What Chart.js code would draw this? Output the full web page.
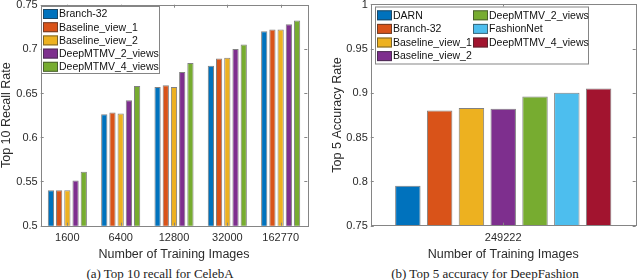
<!DOCTYPE html>
<html>
<head>
<meta charset="utf-8">
<script src="https://cdn.jsdelivr.net/npm/chart.js@4.4.1/dist/chart.umd.min.js"></script>
<style>
  html, body { margin: 0; padding: 0; background: #fff; }
  #wrap { position: relative; width: 640px; height: 280px; overflow: hidden; }
  canvas { position: absolute; top: 0; }
  #celebaCanvas { left: 0; }
  #fashionCanvas { left: 320px; }
  .caption {
    position: absolute; top: 265px; width: 320px; text-align: center;
    font: 13px "Liberation Serif", "Times New Roman", serif; line-height: 17px; color: #222;
  }
</style>
</head>
<body>
<div id="wrap">
  <canvas id="celebaCanvas" width="320" height="261"></canvas>
  <canvas id="fashionCanvas" width="320" height="261"></canvas>
  <div class="caption" style="left:0">(a) Top 10 recall for CelebA</div>
  <div class="caption" style="left:325px">(b) Top 5 accuracy for DeepFashion</div>
</div>
<script>
// CelebA, top 10 recall
const celebaSizes = ["1600", "6400", "12800", "32000", "162770"];
const celebaModels = ["Branch-32", "Baseline_view_1", "Baseline_view_2", "DeepMTMV_2_views", "DeepMTMV_4_views"];
const branch32Recall = [0.540, 0.626, 0.657, 0.681, 0.720];
const baseline1Recall = [0.540, 0.628, 0.659, 0.689, 0.722];
const baseline2Recall = [0.540, 0.627, 0.657, 0.690, 0.722];
const mtmv2Recall = [0.551, 0.642, 0.674, 0.700, 0.728];
const mtmv4Recall = [0.561, 0.658, 0.684, 0.705, 0.732];
const celebaTicks = [0.5, 0.55, 0.6, 0.65, 0.7, 0.75];

// DeepFashion, top 5 accuracy
const fashionSizes = ["249222"];
const fashionModels = ["DARN", "Branch-32", "Baseline_view_1", "Baseline_view_2", "DeepMTMV_2_views", "FashionNet", "DeepMTMV_4_views"];
const fashionTop5 = [0.795, 0.880, 0.883, 0.882, 0.896, 0.900, 0.905];
const fashionTicks = [0.75, 0.8, 0.85, 0.9, 0.95, 1];

const matlabColors = ["#0072BD", "#D95319", "#EDB120", "#7E2F8E", "#77AC30", "#4DBEEE", "#A2142F"];
const axisColor = "#858585";
const textColor = "#2b2b2b";
const edgeColor = "rgba(45,45,45,0.6)";
const sans = "'Liberation Sans', Arial, sans-serif";

// frame round the axes with inward ticks, like a MATLAB box; y labels and legend too
const framePlugin = {
  id: "frame",
  afterDatasetsDraw(chart) {
    const { ctx, chartArea: a, scales } = chart;
    const yTicks = chart.options.plugins.frame.yTicks;
    const len = 3;
    ctx.save();
    ctx.strokeStyle = axisColor;
    ctx.lineWidth = 1;
    ctx.beginPath();
    yTicks.forEach(v => {
      const y = Math.round(scales.y.getPixelForValue(v)) + 0.5;
      ctx.moveTo(a.left, y); ctx.lineTo(a.left + len, y);
      ctx.moveTo(a.right, y); ctx.lineTo(a.right - len, y);
    });
    scales.x.ticks.forEach((t, i) => {
      const x = Math.round(scales.x.getPixelForTick(i)) + 0.5;
      ctx.moveTo(x, a.top); ctx.lineTo(x, a.top + len);
      ctx.moveTo(x, a.bottom); ctx.lineTo(x, a.bottom - len);
    });
    ctx.stroke();
    ctx.strokeRect(Math.round(a.left) + 0.5, Math.round(a.top) + 0.5,
      Math.round(a.right - a.left), Math.round(a.bottom - a.top));

    ctx.fillStyle = textColor;
    ctx.font = "11px " + sans;
    ctx.textAlign = "right";
    ctx.textBaseline = "middle";
    yTicks.forEach(v => {
      ctx.fillText(String(v), a.left - 3, scales.y.getPixelForValue(v) + 0.5);
    });
    ctx.restore();
  },
  afterDraw(chart) {
    const lg = chart.options.plugins.frame.legend;
    const { ctx } = chart;
    ctx.save();
    ctx.fillStyle = "#fff";
    ctx.fillRect(lg.x, lg.y, lg.w, lg.h);
    ctx.strokeStyle = axisColor;
    ctx.strokeRect(lg.x + 0.5, lg.y + 0.5, lg.w, lg.h);
    ctx.font = "10.5px " + sans;
    ctx.textBaseline = "middle";
    chart.data.datasets.forEach((ds, i) => {
      const col = Math.floor(i / lg.rows);
      const row = i % lg.rows;
      const sx = lg.cols[col];
      const cy = lg.row0 + row * lg.step;
      ctx.fillStyle = ds.backgroundColor;
      ctx.fillRect(sx, cy - 5, 15, 10);
      ctx.strokeStyle = edgeColor;
      ctx.strokeRect(sx + 0.5, cy - 4.5, 14, 9);
      ctx.fillStyle = "#111";
      ctx.fillText(ds.label, sx + 16, cy + 0.5);
    });
    ctx.restore();
  }
};

function makeBarChart(id, cfg) {
  const ctx = document.getElementById(id).getContext("2d");
  return new Chart(ctx, {
    type: "bar",
    data: { labels: cfg.labels, datasets: cfg.datasets },
    options: {
      responsive: false,
      animation: false,
      devicePixelRatio: 1,
      layout: { padding: cfg.padding },
      datasets: { bar: { categoryPercentage: cfg.catPct, barPercentage: cfg.barPct } },
      plugins: {
        legend: { display: false },
        tooltip: { enabled: false },
        frame: { legend: cfg.legend, yTicks: cfg.ticks }
      },
      scales: {
        x: {
          grid: { display: false, drawTicks: false },
          border: { display: false },
          ticks: { color: textColor, font: { family: sans, size: 11 }, padding: 6, maxRotation: 0 },
          title: { display: true, text: "Number of Training Images", color: textColor,
                   font: { family: sans, size: 12.5, lineHeight: 1 }, padding: 0 },
          afterFit(s) { s.height = cfg.xHeight; }
        },
        y: {
          min: cfg.ticks[0],
          max: cfg.ticks[cfg.ticks.length - 1],
          grid: { display: false, drawTicks: false },
          border: { display: false },
          ticks: { display: false, stepSize: 0.05 },
          title: { display: true, text: cfg.yTitle, color: textColor,
                   font: { family: sans, size: 12.5, lineHeight: 1 }, padding: 0 },
          afterFit(s) { s.width = cfg.yWidth; }
        }
      }
    },
    plugins: [framePlugin]
  });
}

const celebaValues = [branch32Recall, baseline1Recall, baseline2Recall, mtmv2Recall, mtmv4Recall];

makeBarChart("celebaCanvas", {
  labels: celebaSizes,
  datasets: celebaModels.map((name, i) => ({
    label: name, data: celebaValues[i],
    backgroundColor: matlabColors[i], borderColor: edgeColor, borderWidth: 1
  })),
  ticks: celebaTicks,
  yTitle: "Top 10 Recall Rate",
  padding: { left: 0, right: 12.7, top: 4.7, bottom: 0 },
  yWidth: 40.7,
  xHeight: 35.3,
  catPct: 0.77,
  barPct: 0.76,
  legend: { x: 41, y: 6, w: 118, h: 67, rows: 5, cols: [43], row0: 14, step: 13.2 }
});

makeBarChart("fashionCanvas", {
  labels: fashionSizes,
  datasets: fashionModels.map((name, i) => ({
    label: name, data: [fashionTop5[i]],
    backgroundColor: matlabColors[i], borderColor: edgeColor, borderWidth: 1
  })),
  ticks: fashionTicks,
  yTitle: "Top 5 Accuracy Rate",
  padding: { left: 11.75, right: 4.3, top: 4.3, bottom: 0 },
  yWidth: 39,
  xHeight: 35.3,
  catPct: 0.84,
  barPct: 0.8,
  legend: { x: 55, y: 6.5, w: 213, h: 57, rows: 4, cols: [57, 153], row0: 15.3, step: 13.6 }
});
</script>
</body>
</html>
